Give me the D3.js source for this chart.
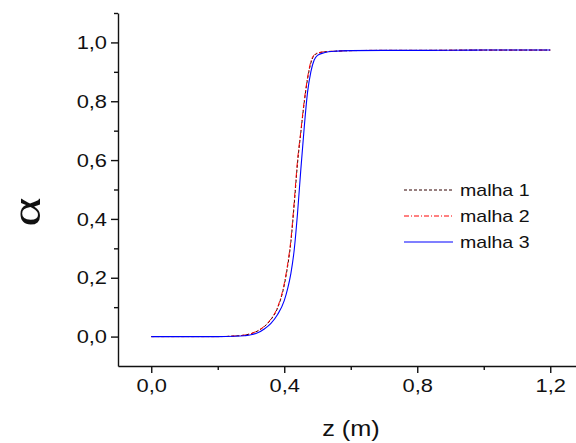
<!DOCTYPE html>
<html><head><meta charset="utf-8">
<script src="https://cdn.jsdelivr.net/npm/d3@7"></script>
<style>body{margin:0;background:#fff}svg{display:block}</style>
</head><body>
<script>
const zValues = [0, 0.1, 0.2, 0.25, 0.28, 0.30, 0.32, 0.34, 0.36, 0.38, 0.40, 0.41, 0.42, 0.43, 0.44, 0.45, 0.46, 0.47, 0.48, 0.49, 0.50, 0.52, 0.55, 0.60, 0.70, 0.80, 1.0, 1.2];
const malha1 = [0, 0, 0, 0.002, 0.005, 0.010, 0.019, 0.034, 0.058, 0.097, 0.175, 0.238, 0.322, 0.450, 0.590, 0.695, 0.795, 0.875, 0.930, 0.956, 0.963, 0.968, 0.970, 0.972, 0.973, 0.973, 0.974, 0.974];
const malha2 = [0, 0, 0, 0.002, 0.005, 0.010, 0.020, 0.035, 0.060, 0.100, 0.180, 0.245, 0.330, 0.460, 0.600, 0.700, 0.800, 0.880, 0.935, 0.958, 0.964, 0.968, 0.970, 0.972, 0.973, 0.973, 0.974, 0.974];
const malha3 = [0, 0, 0, 0.001, 0.003, 0.006, 0.013, 0.026, 0.045, 0.075, 0.122, 0.162, 0.215, 0.295, 0.420, 0.570, 0.710, 0.830, 0.900, 0.940, 0.956, 0.965, 0.970, 0.972, 0.973, 0.973, 0.974, 0.974];
const seriesNames = ["malha 1", "malha 2", "malha 3"];
const xTickValues = [0, 0.4, 0.8, 1.2];
const xMinorTicks = [0.2, 0.6, 1.0];
const yTickValues = [0, 0.2, 0.4, 0.6, 0.8, 1.0];
const yMinorTicks = [0.1, 0.3, 0.5, 0.7, 0.9, 1.1];
const xTitle = "z (m)";
const yTitle = "α";

const W = 576, H = 443;
const mLeft = 118, mRight = 576, mTop = 13, mBottom = 366;
const svg = d3.select("body").append("svg").attr("width", W).attr("height", H);

const x = d3.scaleLinear().domain([-0.1, -0.1 + (mRight - mLeft) / 332.5]).range([mLeft, mRight]);
const y = d3.scaleLinear().domain([-0.1, 1.1]).range([mBottom, mTop]);

const fmt = d => d3.format(".1f")(d).replace(".", ",");
const font = "'Liberation Sans', Arial, sans-serif";

// axes
const xAxis = svg.append("g").attr("transform", `translate(0,${mBottom})`)
  .call(d3.axisBottom(x).tickValues(xTickValues).tickFormat(fmt).tickSize(7).tickPadding(6).tickSizeOuter(0));
const xMinor = svg.append("g").attr("transform", `translate(0,${mBottom})`)
  .call(d3.axisBottom(x).tickValues(xMinorTicks).tickFormat("").tickSize(4).tickSizeOuter(0));
const yAxis = svg.append("g").attr("transform", `translate(${mLeft},0)`)
  .call(d3.axisLeft(y).tickValues(yTickValues).tickFormat(fmt).tickSize(7).tickPadding(4).tickSizeOuter(0));
const yMinor = svg.append("g").attr("transform", `translate(${mLeft},0)`)
  .call(d3.axisLeft(y).tickValues(yMinorTicks).tickFormat("").tickSize(4).tickSizeOuter(0));
[xAxis, xMinor, yAxis, yMinor].forEach(g => {
  g.selectAll("path.domain").attr("stroke", "#111").attr("stroke-width", 1.4);
  g.selectAll(".tick line").attr("stroke", "#111").attr("stroke-width", 1.4);
  g.selectAll("text").attr("font-family", font).attr("font-size", 19).attr("fill", "#111");
});
xMinor.select("path.domain").remove();
yMinor.select("path.domain").remove();

// titles
svg.append("text").attr("class", "stretch").attr("x", 351).attr("y", 436)
  .attr("text-anchor", "middle").attr("font-family", font).attr("font-size", 22).attr("fill", "#111").text(xTitle);
svg.append("text").attr("transform", "translate(39.5,212) rotate(-90) scale(1.3,1)")
  .attr("text-anchor", "middle").attr("font-family", "'Liberation Serif','DejaVu Serif',serif").attr("font-size", 43).attr("fill", "#111").text(yTitle);

// lines
const data = [malha1, malha2, malha3];
const styles = [
  {color: "#300000", dash: "3,2", w: 1},
  {color: "#ff0000", dash: "5,2,1,2", w: 1},
  {color: "#0000ff", dash: null, w: 1.1}
];
const line = d3.line().curve(d3.curveMonotoneX).x((d, i) => x(zValues[i])).y(d => y(d));
data.forEach((s, k) => {
  svg.append("path").datum(s).attr("fill", "none")
    .attr("stroke", styles[k].color).attr("stroke-width", styles[k].w)
    .attr("stroke-dasharray", styles[k].dash).attr("d", line);
});

// legend
const legY = [190, 216, 242];
seriesNames.forEach((n, k) => {
  svg.append("line").attr("x1", 404).attr("x2", 453).attr("y1", legY[k]).attr("y2", legY[k])
    .attr("stroke", styles[k].color).attr("stroke-width", styles[k].w).attr("stroke-dasharray", styles[k].dash);
  svg.append("text").attr("class", "stretch").attr("x", 460).attr("y", legY[k] + 6)
    .attr("font-family", font).attr("font-size", 17).attr("fill", "#111").text(n);
});

// horizontal stretch of the glyphs as in the reference
svg.selectAll(".tick text, text.stretch").each(function() {
  const len = this.getComputedTextLength();
  if (len > 0) d3.select(this).attr("textLength", len * 1.15).attr("lengthAdjust", "spacingAndGlyphs");
});
</script>
</body></html>
